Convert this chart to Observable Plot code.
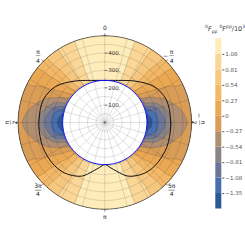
<!DOCTYPE html>
<html><head><meta charset="utf-8">
<script src="https://cdn.jsdelivr.net/npm/d3@7"></script>
<script src="https://cdn.jsdelivr.net/npm/@observablehq/plot@0.6"></script>
<style>
body{margin:0;background:#fff;font-family:"DejaVu Sans",sans-serif;}
#wrap{position:relative;width:245px;height:245px;overflow:hidden;background:#fff;}
#main{position:absolute;left:0;top:0;}
#cbar{position:absolute;left:213px;top:0;}
#cbtitle{position:absolute;left:205px;top:23px;font-size:6.5px;line-height:7px;white-space:nowrap;color:#333;}
#cbtitle sup,#cbtitle sub{font-size:4.5px;}
</style></head><body>
<div id="wrap"><div id="main"></div><div id="cbar"></div>
<div id="cbtitle"><sup>0</sup><i>F</i><sub>ρρ</sub> <sup>0</sup><i>F</i><sup>ρρ</sup>/10<sup>3</sup></div></div>
<script>
// ---- data ----
const gridAngles = [0, 10, 20, 30, 40, 50, 55, 60, 65, 70, 75, 80, 85, 90]; // degrees from top, one quadrant
const gridRadii = [243, 270, 300, 340, 380, 420, 460, 500];
const v243 = [1.25, 1.22, 1.10, 0.81, 0.41, -0.05, -0.27, -0.44, -0.66, -0.96, -1.35, -1.42, -1.48, -1.55];
const v270 = [1.25, 1.20, 1.10, 0.84, 0.46, 0.08, -0.14, -0.34, -0.51, -0.81, -1.11, -1.24, -1.36, -1.38];
const v300 = [1.25, 1.20, 1.10, 0.84, 0.50, 0.14, -0.04, -0.23, -0.42, -0.68, -0.92, -1.09, -1.12, -1.15];
const v340 = [1.25, 1.20, 1.10, 0.86, 0.54, 0.21, 0.06, -0.10, -0.25, -0.42, -0.58, -0.73, -0.83, -0.86];
const v380 = [1.25, 1.20, 1.09, 0.86, 0.54, 0.24, 0.11, -0.03, -0.15, -0.27, -0.36, -0.46, -0.54, -0.57];
const v420 = [1.25, 1.20, 1.09, 0.88, 0.57, 0.27, 0.14, 0.00, -0.08, -0.17, -0.25, -0.32, -0.37, -0.43];
const v460 = [1.25, 1.20, 1.09, 0.88, 0.60, 0.27, 0.16, 0.05, -0.04, -0.10, -0.17, -0.23, -0.28, -0.31];
const v500 = [1.25, 1.20, 1.09, 0.88, 0.60, 0.30, 0.18, 0.07, -0.02, -0.06, -0.10, -0.14, -0.18, -0.22];

const levels = [-1.62, -1.35, -1.08, -0.81, -0.54, -0.27, 0, 0.27, 0.54, 0.81, 1.08];
const levelTop = 1.35;
const bandColors = ["#2b5896", "#4a6fae", "#6b7699", "#8b8487", "#b08e72", "#d99d57",
                    "#eaa754", "#f2b867", "#f6c77f", "#fad697", "#feecba"];
const cbTicks = [-1.35, -1.08, -0.81, -0.54, -0.27, 0, 0.27, 0.54, 0.81, 1.08];

// black curve (left half, angle from top counter-clockwise, radius)
const curveAngle = [0, 24.7, 35.2, 45.6, 53.9, 61.3, 69.4, 78.6, 86.5, 93.5, 102.2, 111.1, 120.7, 130.5, 139.5, 148.6, 157.4, 165.9, 173.3, 180];
const curveRadius = [242, 267, 293, 325, 352, 367, 378, 380, 379, 381, 382, 385, 384, 382, 375, 358, 334, 291, 261, 242];

const holeR = 243;
const outerR = 500;
const ringRadii = [50, 100, 150, 200, 250, 300, 350, 400, 450];
const spokeAngles = d3.range(0, 360, 15);
const radLabels = [100, 200, 300, 400];
const tickPhi = [0, 45, 90, 135, 180, 225, 270, 315];
const tickNum = ["0", "π", "π", "3π", "π", "5π", "π", "π"];
const tickDen = ["", "4", "2", "4", "", "4", "2", "4"];
const tickNeg = [false, false, false, false, false, false, true, true];
const tickRot = [0, 0, -90, 0, 0, 0, 90, 0];

// ---- build ----
const rad = Math.PI / 180;
const px = d => -d.r * Math.sin(d.phi * rad);
const py = d => d.r * Math.cos(d.phi * rad);

const rows = [v243, v270, v300, v340, v380, v420, v460, v500];
const pts = [];
gridRadii.forEach((r, i) => gridAngles.forEach((a, j) => {
  for (const phi of new Set([a % 360, 180 - a, 180 + a, (360 - a) % 360])) pts.push({phi, r, v: rows[i][j]});
}));

const circle = (r, key) => d3.range(0, 361, 3).map(phi => ({phi, r, key}));
const rings = ringRadii.flatMap(r => circle(r, r));
const hole = circle(holeR, 0);
const rim = circle(outerR, 0);

const curvePts = curveAngle.map((a, i) => ({phi: a, r: curveRadius[i]}))
  .concat(curveAngle.slice(0, -1).map((a, i) => ({phi: 360 - a, r: curveRadius[i]})).reverse());

const labR = 545;
const tlabels = tickPhi.map((phi, i) => ({phi, r: labR, num: tickNum[i], den: tickDen[i], neg: tickNeg[i], rot: tickRot[i]}));
const fracs = tlabels.filter(d => d.den);
const singles = tlabels.filter(d => !d.den);
const negs = tlabels.filter(d => d.neg);

const X0 = 104.3, Y0 = 122, K = 0.1734;
const main = Plot.plot({
  width: 245, height: 245, margin: 0,
  style: {fontFamily: "DejaVu Sans", background: "transparent"},
  x: {domain: [-X0 / K, (245 - X0) / K], axis: null},
  y: {domain: [-(245 - Y0) / K, Y0 / K], axis: null},
  color: {type: "ordinal", domain: levels, range: bandColors},
  marks: [
    Plot.contour(pts, {x: px, y: py, fill: "v", thresholds: levels, interpolate: "barycentric"}),
    Plot.contour(pts, {x: px, y: py, value: "v", thresholds: levels.slice(1), interpolate: "barycentric",
      stroke: "#222", strokeOpacity: 0.35, strokeWidth: 0.5, fill: "none"}),
    Plot.line(hole, {x: px, y: py, fill: "white", stroke: "none"}),
    Plot.line(rings, {x: px, y: py, z: "key", stroke: "#000", strokeOpacity: 0.24, strokeWidth: 0.5}),
    Plot.link(spokeAngles, {x1: 0, y1: 0, x2: a => -outerR * Math.sin(a * rad), y2: a => outerR * Math.cos(a * rad),
      stroke: "#000", strokeOpacity: 0.24, strokeWidth: 0.5}),
    Plot.line(curvePts, {x: px, y: py, stroke: "#111", strokeWidth: 1, curve: "catmull-rom"}),
    Plot.line(hole, {x: px, y: py, stroke: "#1010ff", strokeWidth: 1}),
    Plot.line(rim, {x: px, y: py, stroke: "#333", strokeWidth: 0.7}),
    Plot.link(tickPhi, {x1: a => -outerR * Math.sin(a * rad), y1: a => outerR * Math.cos(a * rad),
      x2: a => -(outerR + 14) * Math.sin(a * rad), y2: a => (outerR + 14) * Math.cos(a * rad), stroke: "#333", strokeWidth: 0.6}),
    Plot.link(radLabels, {x1: 0, x2: 14, y1: d => d, y2: d => d, stroke: "#333", strokeWidth: 0.6}),
    Plot.text(radLabels, {x: 0, y: d => d, text: d => d + ".", dx: 3.5, textAnchor: "start", fontSize: 5.5, fill: "#333"}),
    Plot.text(singles, {x: px, y: py, text: "num", fontSize: 6, fill: "#222"}),
    Plot.text(fracs, {x: px, y: py, text: d => d.num + "\n" + d.den, rotate: "rot", lineHeight: 1.45, fontSize: 6, fill: "#222"}),
    Plot.text(fracs, {x: px, y: py, text: d => "—", rotate: "rot", fontSize: d => d.num.length > 1 ? 7 : 5, fill: "#222"}),
    Plot.text(negs.filter(d => d.rot === 0), {x: px, y: py, text: d => "−", dx: -6, fontSize: 6, fill: "#222"}),
    Plot.text(negs.filter(d => d.rot !== 0), {x: px, y: py, text: d => "−", dy: -7, rotate: "rot", fontSize: 6, fill: "#222"})
  ]
});

// clip the filled field to the outer rim, using the plot's scales
const sx = main.scale("x"), sy = main.scale("y");
const cx = sx.apply(0), cy = sy.apply(0), R = sx.apply(outerR) - cx;
const ns = "http://www.w3.org/2000/svg";
const defs = document.createElementNS(ns, "defs");
const cp = document.createElementNS(ns, "clipPath");
cp.setAttribute("id", "rimclip");
const c = document.createElementNS(ns, "circle");
c.setAttribute("cx", cx); c.setAttribute("cy", cy); c.setAttribute("r", R);
cp.appendChild(c); defs.appendChild(cp); main.insertBefore(defs, main.firstChild);
main.querySelectorAll('g[aria-label="contour"]').forEach(g => g.setAttribute("clip-path", "url(#rimclip)"));
document.getElementById("main").appendChild(main);

// colorbar
const bands = levels.map((lo, i) => ({lo, hi: i < levels.length - 1 ? levels[i + 1] : levelTop, c: bandColors[i]}));
const fmt = d => d === 0 ? "0" : d.toFixed(2).replace("-", "−");
const cbar = Plot.plot({
  width: 32, height: 245, marginTop: 38.5, marginBottom: 36.5, marginLeft: 2.3, marginRight: 23.7,
  style: {fontFamily: "DejaVu Sans", fontSize: "5.5px", color: "#555", background: "transparent"},
  x: {domain: [0, 1], axis: null},
  y: {domain: [levels[0], levelTop], axis: "right", ticks: cbTicks, tickFormat: fmt, tickSize: 2, tickPadding: 1.5, label: null},
  marks: [
    Plot.rect(bands, {x1: 0, x2: 1, y1: "lo", y2: "hi", fill: "c"})
  ]
});
document.getElementById("cbar").appendChild(cbar);
</script></body></html>
